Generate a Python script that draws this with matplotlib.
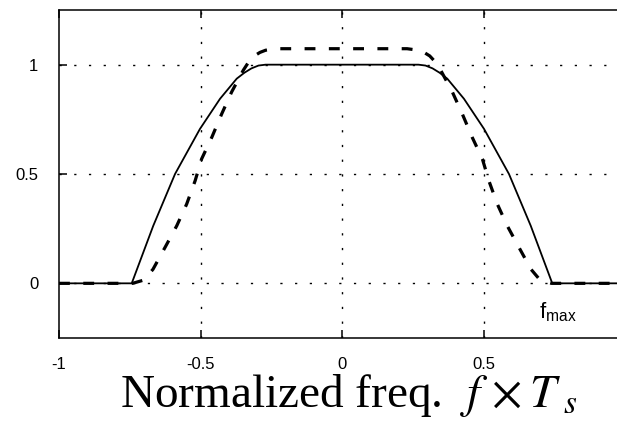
import matplotlib
matplotlib.use("Agg")
import matplotlib.pyplot as plt

# Data
solid_x = [-1.0, -0.743, -0.667, -0.59, -0.502, -0.431, -0.372, -0.345, -0.32,
           -0.295, -0.27, 0.27, 0.295, 0.32, 0.345, 0.372, 0.431, 0.502, 0.59,
           0.667, 0.743, 1.0]
solid_y = [0.0, 0.0, 0.263, 0.50, 0.706, 0.844, 0.936, 0.963, 0.983,
           0.996, 1.0, 1.0, 0.996, 0.983, 0.963, 0.936, 0.844, 0.706, 0.50,
           0.263, 0.0, 0.0]

dashed_x = [-1.0, -0.74, -0.70, -0.668, -0.625, -0.584, -0.549, -0.519, -0.496,
            -0.46, -0.425, -0.39, -0.349, -0.33, -0.31, -0.29, -0.27, -0.23,
            0.23, 0.27, 0.29, 0.31, 0.33, 0.349, 0.39, 0.425, 0.46, 0.496,
            0.519, 0.549, 0.584, 0.625, 0.668, 0.70, 0.74, 1.0]
dashed_y = [0.0, 0.0, 0.015, 0.064, 0.165, 0.263, 0.362, 0.469, 0.569,
            0.668, 0.775, 0.875, 0.974, 1.012, 1.040, 1.056, 1.066, 1.073,
            1.073, 1.066, 1.056, 1.040, 1.012, 0.974, 0.875, 0.775, 0.668, 0.569,
            0.469, 0.362, 0.263, 0.165, 0.064, 0.015, 0.0, 0.0]

xticks = [-1, -0.5, 0, 0.5]
xtick_labels = ["-1", "-0.5", "0", "0.5"]
yticks = [0, 0.5, 1]
ytick_labels = ["0", "0.5", "1"]

plt.rcParams['mathtext.fontset'] = 'stix'

fig = plt.figure(figsize=(6.17, 4.26), dpi=100)
ax = fig.add_axes([59/617, (426-338)/426, (625-59)/617, (338-10)/426])

ax.plot(solid_x, solid_y, color='black', lw=1.3, solid_joinstyle='round')
ax.plot(dashed_x, dashed_y, color='black', lw=2.3, linestyle=(0, (3.4, 4.2)))

ax.set_xlim(-1, 1)
ax.set_ylim(-0.25, 1.25)

for v in [-0.5, 0, 0.5]:
    ax.axvline(v, color='black', lw=1.0, linestyle=(0, (1.6, 9)), zorder=0)
for v in [0, 0.5, 1]:
    ax.axhline(v, color='black', lw=1.0, linestyle=(0, (1.6, 9)), zorder=0)

ax.set_xticks(xticks)
ax.set_xticklabels(xtick_labels, fontfamily='Liberation Sans', fontsize=12)
ax.set_yticks(yticks)
ax.set_yticklabels(ytick_labels, fontfamily='Liberation Sans', fontsize=12)
ax.tick_params(axis='both', direction='in', length=6, width=1.1, top=True,
               right=False)
ax.tick_params(axis='y', pad=15)
ax.tick_params(axis='x', pad=14)

for s in ['top', 'left', 'bottom']:
    ax.spines[s].set_linewidth(1.1)
ax.spines['right'].set_visible(False)

ax.text(0.696, -0.128, r'f$_{\mathregular{max}}$', fontfamily='Liberation Sans',
        fontsize=16, ha='left', va='center')

ax.set_xlabel(r'Normalized freq.  $f\,\times T_{\ s}$', fontfamily='Liberation Serif',
              fontsize=34, labelpad=0)
ax.xaxis.label.set_x(0.5 + 7/566)

fig.savefig('out.png', dpi=100)
